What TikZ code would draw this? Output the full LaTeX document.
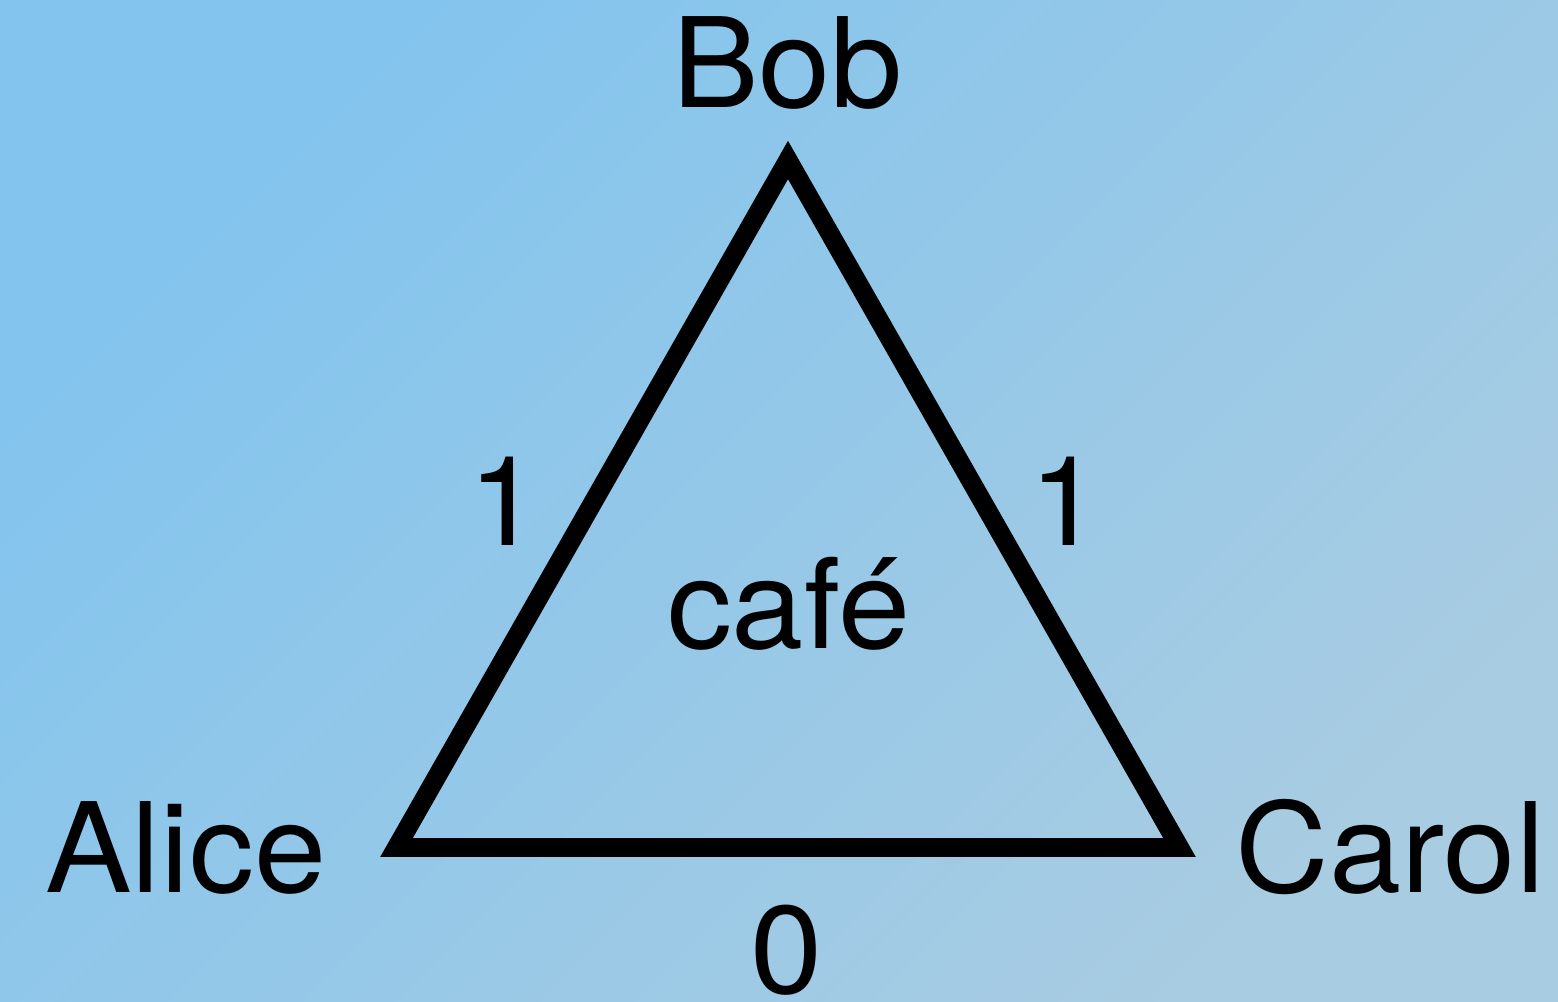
\documentclass[tikz,border=0pt]{standalone}
\usepackage{fontspec}
\setmainfont[FakeStretch=1.04]{TeX Gyre Heros}
\usepackage{tikz}

\definecolor{skytop}{HTML}{82C4EE}
\definecolor{skybottom}{HTML}{A8CCE2}

\begin{document}
\begin{tikzpicture}[
  label text/.style={anchor=base, inner sep=0pt, font=\fontsize{35.5}{40}\selectfont},
  side/.style={line width=5.4pt, line join=miter}
]

% Background
\shade[top color=skytop, bottom color=skybottom, shading angle=45] (0,0) rectangle (15.58,10.01);
\useasboundingbox (0,0) rectangle (15.58,10.01);

% Corners of the triangle
\coordinate (alice) at (3.965,1.535);
\coordinate (bob) at (7.88,8.41);
\coordinate (carol) at (11.795,1.535);

% Triangle
\draw[side] (alice) -- (bob) -- (carol) -- cycle;

% Names
\node[label text] (bobname) at (7.875,8.93) {Bob};
\node[label text] (alicename) at (1.86,1.09) {Alice};
\node[label text] (carolname) at (13.90,1.09) {Carol};
\node[label text] (cafe) at (7.89,3.53) {café};

% Edge weights
\node[label text] (ab) at (5.05,4.56) {1};
\node[label text] (bc) at (10.66,4.56) {1};
\node[label text] (ac) at (7.865,0.08) {0};

\end{tikzpicture}
\end{document}
